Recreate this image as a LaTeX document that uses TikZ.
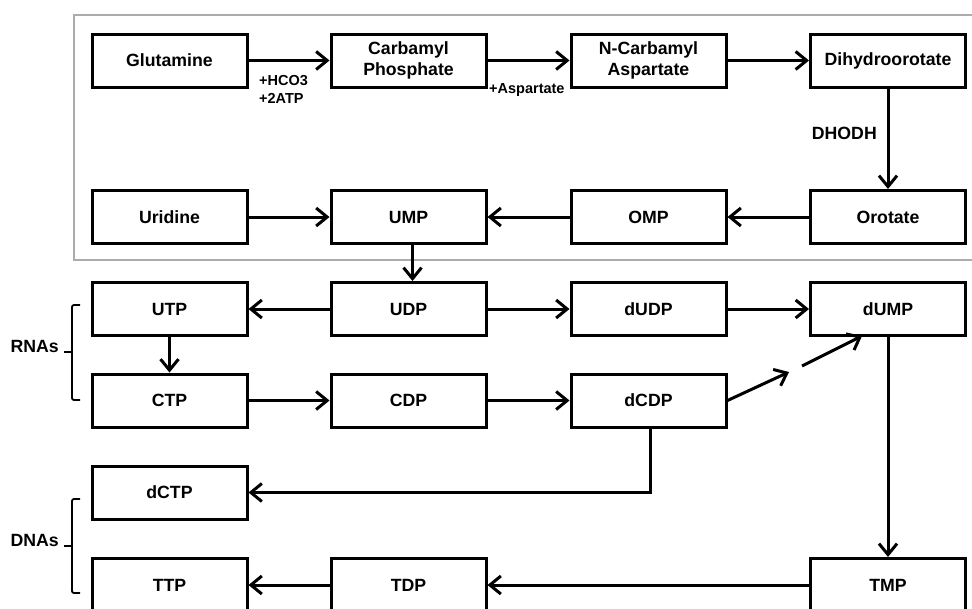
\documentclass[tikz,border=0pt]{standalone}
\usepackage{fontspec}
\setmainfont{Liberation Sans}
\usetikzlibrary{arrows.meta}

\tikzset{
  box/.style={draw, line width=3pt, minimum width=155pt, minimum height=53pt,
    align=center, inner sep=2pt, font=\bfseries\fontsize{17.7}{21.5}\selectfont},
  flow/.style={line width=3pt, -{Straight Barb[length=11pt,width=18pt]}},
  note/.style={inner sep=0pt, align=left, font=\bfseries\fontsize{14.5}{18}\selectfont},
  tag/.style={inner sep=0pt, font=\bfseries\fontsize{17.7}{21}\selectfont},
  brace/.style={line width=1.8pt, rounded corners=2pt},
}

\begin{document}
\begin{tikzpicture}[x=1pt,y=-1pt]
    \useasboundingbox (0,0) rectangle (972,608);
    \draw[gray!65, line width=2.6pt] (74,15) rectangle (980,260);
    \foreach \nm/\xx/\yy/\lbl in {glu/169.5/60.5/Glutamine, dhy/888/60.5/Dihydroorotate,
        uri/169.5/217/Uridine, ump/408.5/217/UMP, omp/648.5/217/OMP, oro/888/217/Orotate,
        utp/169.5/309/UTP, udp/408.5/309/UDP, dudp/648.5/309/dUDP, dump/888/309/dUMP,
        ctp/169.5/400.5/CTP, cdp/408.5/400.5/CDP, dcdp/648.5/400.5/dCDP,
        dctp/169.5/492.5/dCTP, ttp/169.5/585/TTP, tdp/408.5/585/TDP, tmp/888/585/TMP}
        \node[box] (\nm) at (\xx,\yy) {\lbl};
    \node[box] (cp) at (408.5,60.5) {Carbamyl\\Phosphate};
    \node[box] (nca) at (648.5,60.5) {N-Carbamyl\\Aspartate};
    \coordinate (gapA) at (789,372);
    \coordinate (gapB) at (802,366);
    \coordinate (dumpin) at (862,336);

    \draw[flow] (glu) -- (cp);
    \draw[flow] (cp) -- (nca);
    \draw[flow] (nca) -- (dhy);
    \draw[flow] (dhy) -- (oro);
    \draw[flow] (oro) -- (omp);
    \draw[flow] (omp) -- (ump);
    \draw[flow] (uri) -- (ump);
    \draw[flow] ([xshift=4pt]ump.south) -- ([xshift=4pt]udp.north);
    \draw[flow] (udp) -- (utp);
    \draw[flow] (utp) -- (ctp);
    \draw[flow] (udp) -- (dudp);
    \draw[flow] (dudp) -- (dump);
    \draw[flow] (ctp) -- (cdp);
    \draw[flow] (cdp) -- (dcdp);
    \draw[flow] (dcdp.east) -- (gapA);
    \draw[flow] (gapB) -- (dumpin);
    \draw[flow] ([xshift=2pt]dcdp.south) |- (dctp.east);
    \draw[flow] (dump) -- (tmp);
    \draw[flow] (tmp) -- (tdp);
    \draw[flow] (tdp) -- (ttp);

    \node[note, anchor=north west] (atp) at (259,75) {+HCO3\\+2ATP};
    \node[note, anchor=north west] (asp) at (489,83) {+Aspartate};
    \node[tag, anchor=east] (dhodh) at (877,133) {DHODH};
    \node[tag, anchor=base east] (rna) at (59,352) {RNAs};
    \node[tag, anchor=base east] (dna) at (59,546) {DNAs};

    \draw[brace] (80,305) -- (72,305) -- (72,400) -- (80,400);
    \draw[brace] (72,352) -- (64,352);
    \draw[brace] (80,499) -- (72,499) -- (72,593) -- (80,593);
    \draw[brace] (72,546) -- (64,546);
\end{tikzpicture}
\end{document}
